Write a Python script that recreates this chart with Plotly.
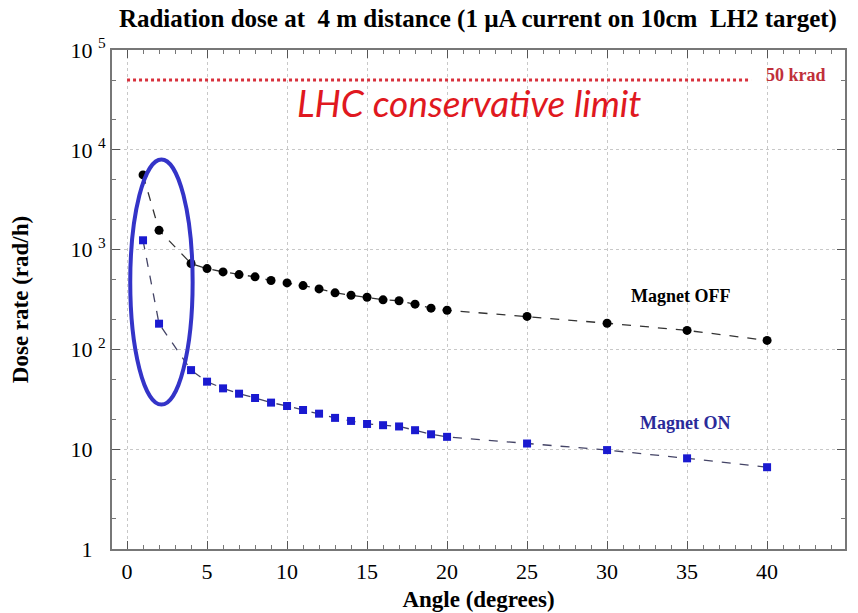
import plotly.graph_objects as go
import math

angles = [1, 2, 4, 5, 6, 7, 8, 9, 10, 11, 12, 13, 14, 15, 16, 17, 18, 19, 20, 25, 30, 35, 40]
dose_off = [5600, 1560, 725, 645, 598, 562, 533, 490, 464, 436, 404, 369, 349, 333, 314, 307, 284, 259,
            247, 214, 183, 155, 123]
dose_on = [1240, 181, 62, 47.5, 40.7, 36, 32.6, 29.3, 27.1, 24.7, 22.7, 20.6, 19.2, 17.9, 17.4, 16.9, 15.5, 14.1,
           13.3, 11.4, 9.8, 8.1, 6.6]
limit_x = [0, 39]
limit_y = [5e4, 5e4]
ytick_vals = [1, 10, 100, 1000, 1e4, 1e5]
hid = "<sup><span style='color:rgba(0,0,0,0)'>5</span></sup>"
ytick_text = ["1 " + hid, "10 " + hid, "10 <sup>2</sup>", "10 <sup>3</sup>", "10 <sup>4</sup>", "10 <sup>5</sup>"]
xtick_vals = [0, 5, 10, 15, 20, 25, 30, 35, 40, 45]

serif = "Liberation Serif"

fig = go.Figure()
fig.add_trace(go.Scatter(x=limit_x, y=limit_y, mode="lines",
                         line=dict(color="#d8303c", width=3, dash="dot"), showlegend=False))
fig.add_trace(go.Scatter(x=angles, y=dose_off, mode="lines+markers",
                         line=dict(color="#333333", width=1.3, dash="dash"),
                         marker=dict(symbol="circle", size=9, color="black"), showlegend=False))
fig.add_trace(go.Scatter(x=angles, y=dose_on, mode="lines+markers",
                         line=dict(color="#444466", width=1.3, dash="dash"),
                         marker=dict(symbol="square", size=8, color="#1a1ad0"), showlegend=False))

# ellipse around the first points (y in domain fraction of log range [0,5])
fig.add_shape(type="circle", xref="x", yref="y domain",
              x0=0.2, x1=4.1,
              y0=math.log10(28) / 5, y1=math.log10(8000) / 5,
              line=dict(color="#3434c8", width=4))

fig.add_annotation(x=21.4, y=math.log10(3.0e4), text="LHC conservative limit", showarrow=False,
                   font=dict(family="Lato", size=37, color="#e01820", style="italic"))
fig.add_annotation(x=41.8, y=math.log10(5.6e4), text="<b>50 krad</b>", showarrow=False,
                   font=dict(family=serif, size=18, color="#c0303a"))
fig.add_annotation(x=34.6, y=math.log10(339), text="<b>Magnet OFF</b>", showarrow=False,
                   font=dict(family=serif, size=18, color="black"))
fig.add_annotation(x=34.9, y=math.log10(18.2), text="<b>Magnet ON</b>", showarrow=False,
                   font=dict(family=serif, size=18, color="#2a2a9a"))

fig.update_layout(
    width=858, height=613,
    margin=dict(l=112, r=13, t=50, b=64, autoexpand=False),
    paper_bgcolor="white", plot_bgcolor="white",
    title=dict(text="<b>Radiation dose at  4 m distance (1 \u00b5A current on 10cm  LH2 target)</b>",
               x=0.557, xanchor="center", y=0.9706, yanchor="middle",
               font=dict(family=serif, size=25, color="black")),
    font=dict(family=serif, color="black"),
)
fig.update_xaxes(range=[-0.94, 44.87], tickvals=xtick_vals, automargin=False,
                 ticks="inside", ticklen=8, tickcolor="#555", mirror="ticks",
                 showline=True, linecolor="#777", linewidth=2,
                 showgrid=True, gridcolor="#c8c8c8", griddash="dot", gridwidth=1,
                 zeroline=False, ticklabelstandoff=2,
                 minor=dict(dtick=1, ticks="inside", ticklen=4, tickcolor="#777", showgrid=False),
                 tickfont=dict(family=serif, size=22, color="black"),
                 title=dict(text="<b>Angle (degrees)</b>", font=dict(family=serif, size=23), standoff=7))
fig.update_yaxes(type="log", range=[0, 5], tickvals=ytick_vals, ticktext=ytick_text, automargin=False,
                 ticks="inside", ticklen=8, tickcolor="#555", mirror="ticks",
                 showline=True, linecolor="#777", linewidth=2,
                 showgrid=True, gridcolor="#c8c8c8", griddash="dot", gridwidth=1,
                 zeroline=False,
                 minor=dict(ticks="inside", ticklen=4, tickcolor="#777", showgrid=False),
                 tickfont=dict(family=serif, size=22, color="black"),
                 title=dict(text="<b>Dose rate (rad/h)</b>", font=dict(family=serif, size=23), standoff=35))

fig.write_html("out.html")
